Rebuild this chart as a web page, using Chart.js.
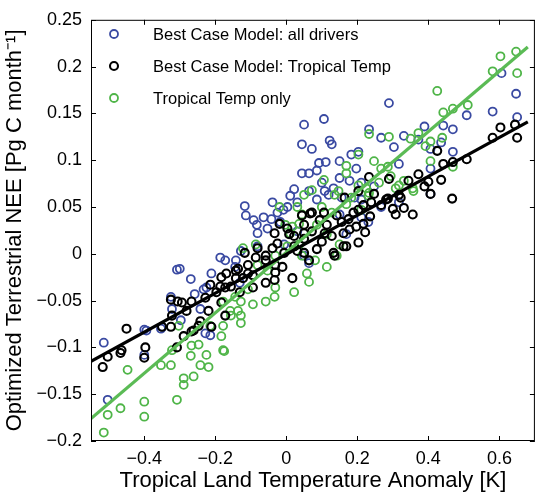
<!DOCTYPE html>
<html><head><meta charset="utf-8">
<script src="https://cdn.jsdelivr.net/npm/chart.js@4.4.0/dist/chart.umd.min.js"></script>
<style>html,body{margin:0;padding:0;background:#fff;}#wrap{width:541px;height:497px;}</style>
</head><body><div id="wrap"><canvas id="c" width="541" height="497"></canvas></div>
<script>
const seriesLabels = ["Best Case Model: all drivers", "Best Case Model: Tropical Temp", "Tropical Temp only"];
const xTitle = "Tropical Land Temperature Anomaly [K]";
const yTitle = "Optimized Terrestrial NEE [Pg C month\u207B\u00B9]";
const xTickValues = [-0.4, -0.2, 0, 0.2, 0.4, 0.6];
const xTickLabels = ["\u22120.4", "\u22120.2", "0", "0.2", "0.4", "0.6"];
const yTickValues = [-0.2, -0.15, -0.1, -0.05, 0, 0.05, 0.1, 0.15, 0.2, 0.25];
const yTickLabels = ["\u22120.2", "\u22120.15", "\u22120.1", "\u22120.05", "0", "0.05", "0.1", "0.15", "0.2", "0.25"];

const allDriversX = [0.050,0.106,0.044,0.072,0.122,0.128,0.092,0.111,0.150,0.183,0.203,0.233,0.044,0.064,0.086,0.150,0.178,0.289,0.267,0.331,0.389,0.442,0.469,0.508,0.581,0.606,0.647,0.650,0.303,0.317,0.372,0.406,0.436,0.469,0.406,0.247,0.317,0.211,0.022,0.011,-0.117,-0.114,-0.092,-0.083,-0.081,-0.064,-0.042,-0.053,-0.025,-0.008,0.064,0.086,0.108,0.133,0.211,0.150,0.169,-0.186,-0.211,-0.269,-0.300,-0.172,-0.144,-0.131,-0.233,-0.006,-0.308,-0.258,-0.325,-0.322,-0.297,-0.225,-0.350,-0.394,-0.228,-0.142,-0.242,-0.514,-0.503,-0.400,-0.353,-0.214,0.192,0.406,0.211,0.231,0.267,0.119,0.003,-0.017,-0.128,0.050,0.064,-0.400,0.031,0.100,0.156,0.197,-0.039,0.031,-0.081];
const allDriversY = [0.138,0.144,0.117,0.112,0.121,0.117,0.097,0.098,0.099,0.106,0.109,0.133,0.086,0.086,0.089,0.081,0.078,0.161,0.124,0.126,0.136,0.137,0.133,0.148,0.152,0.193,0.171,0.146,0.114,0.096,0.122,0.091,0.119,0.109,0.112,0.072,0.055,0.058,0.069,0.062,0.051,0.041,0.036,0.031,0.022,0.039,0.037,0.027,0.044,0.047,0.067,0.058,0.067,0.070,0.076,0.042,0.021,-0.004,-0.021,-0.027,-0.016,-0.007,-0.014,-0.031,-0.038,0.010,-0.017,-0.043,-0.046,-0.059,-0.071,-0.036,-0.078,-0.082,-0.085,-0.007,-0.059,-0.095,-0.156,-0.108,-0.080,-0.087,0.060,0.064,0.039,0.034,0.050,0.063,0.050,0.034,0.003,-0.002,-0.010,-0.081,0.055,0.076,0.060,0.091,0.055,0.024,0.008];

const tropTempX = [0.581,0.603,0.644,0.650,0.425,0.442,0.469,0.508,0.372,0.233,0.289,0.400,0.436,0.389,0.406,0.467,0.344,0.317,0.286,0.267,0.300,0.308,0.331,0.356,0.247,0.203,0.236,0.203,0.203,0.222,0.217,0.164,0.217,0.178,0.161,0.136,0.106,0.067,0.044,0.008,0.022,0.050,0.086,0.064,0.050,0.017,-0.031,-0.011,-0.058,-0.081,-0.039,-0.094,-0.108,-0.142,-0.169,-0.172,-0.197,-0.183,-0.228,-0.219,-0.267,-0.294,-0.281,-0.242,-0.211,-0.172,-0.058,-0.033,-0.325,-0.306,-0.322,-0.350,-0.450,-0.325,-0.261,-0.214,-0.186,-0.183,-0.142,-0.122,-0.247,-0.289,-0.308,-0.397,-0.400,-0.464,-0.117,-0.094,-0.156,-0.131,-0.517,-0.503,-0.467,-0.267,0.281,0.322,0.072,0.050,0.094,0.142,0.175,0.197,0.108,0.161,-0.019,-0.033,-0.025,-0.086,-0.058,0.003,0.022,-0.006,-0.031,-0.108,-0.136,0.050,0.128,0.169,0.133,0.100,0.031,0.072,0.114,0.156,0.239,0.189];
const tropTempY = [0.124,0.135,0.138,0.124,0.110,0.096,0.098,0.101,0.085,0.082,0.080,0.077,0.079,0.072,0.064,0.059,0.078,0.063,0.059,0.052,0.048,0.042,0.049,0.042,0.064,0.067,0.040,0.047,0.012,0.023,0.032,0.060,0.052,0.026,0.008,-0.002,0.044,0.043,0.041,0.021,0.019,0.022,0.005,-0.007,0.001,-0.026,-0.012,-0.014,-0.002,0.006,0.006,-0.023,-0.021,-0.026,-0.021,-0.036,-0.041,-0.052,-0.047,-0.061,-0.051,-0.052,-0.061,-0.072,-0.078,-0.066,-0.031,-0.028,-0.049,-0.051,-0.066,-0.078,-0.080,-0.078,-0.082,-0.033,-0.035,-0.025,-0.018,-0.026,-0.077,-0.088,-0.100,-0.100,-0.111,-0.103,0.001,-0.036,-0.035,-0.041,-0.121,-0.110,-0.106,-0.083,0.058,0.060,0.044,0.031,0.036,0.041,0.037,0.029,0.022,0.022,0.032,0.022,0.011,-0.004,-0.007,0.027,0.008,0.001,-0.020,-0.012,-0.016,0.016,0.019,0.008,0.001,0.013,0.003,0.024,0.031,0.034,0.055,0.044];

const tempOnlyX = [0.233,0.289,0.350,0.372,0.392,0.406,0.425,0.439,0.442,0.469,0.511,0.581,0.603,0.647,0.650,0.247,0.286,0.406,0.469,0.203,0.317,0.358,0.233,0.106,0.072,0.136,0.169,0.203,0.231,-0.019,-0.003,0.011,0.036,0.086,0.114,0.150,0.142,0.064,0.022,-0.033,-0.058,-0.094,-0.136,-0.178,-0.156,-0.214,-0.128,-0.081,-0.122,-0.031,0.211,-0.303,-0.247,-0.269,-0.225,-0.178,-0.178,-0.219,-0.242,-0.325,-0.353,-0.447,-0.261,-0.289,-0.158,-0.128,-0.144,-0.183,-0.128,-0.514,-0.503,-0.467,-0.400,-0.400,-0.308,-0.322,-0.175,-0.267,0.169,0.050,0.225,0.261,0.294,0.331,0.356,0.308,0.044,0.036,0.169,0.147,-0.086,0.017,0.058,-0.031,0.081,0.114,0.044,-0.289,0.100,0.183,0.031,0.128,0.003,-0.053,-0.108,0.267];
const tempOnlyY = [0.128,0.125,0.123,0.129,0.115,0.120,0.174,0.124,0.151,0.155,0.159,0.195,0.211,0.216,0.193,0.099,0.093,0.099,0.093,0.106,0.073,0.067,0.065,0.079,0.068,0.063,0.086,0.073,0.062,0.050,0.031,0.022,0.010,0.031,0.021,0.010,-0.002,-0.030,-0.041,-0.046,-0.051,-0.054,-0.061,-0.051,-0.066,-0.077,-0.074,-0.012,0.006,-0.002,0.047,-0.077,-0.097,-0.109,-0.108,-0.103,-0.077,-0.121,-0.119,-0.119,-0.119,-0.124,-0.131,-0.133,-0.061,-0.066,-0.046,-0.088,-0.051,-0.191,-0.172,-0.165,-0.158,-0.174,-0.156,-0.103,-0.104,-0.098,0.094,0.063,0.070,0.076,0.083,0.078,0.070,0.070,0.042,0.032,0.053,0.067,0.010,0.029,-0.021,-0.036,-0.007,-0.014,-0.002,-0.140,0.050,0.060,0.050,0.044,0.008,-0.018,-0.038,0.091];

const fitX = [-0.55, 0.68];
const tropTempFitY = [-0.115, 0.141];
const tempOnlyFitY = [-0.176, 0.221];

const colBlue = '#3a4aa2', colBlack = '#000000', colGreen = '#4fb548', colGreenLine = '#5bbb55';
const FONT = '"Liberation Sans", Arial, Helvetica, sans-serif';

function pts(xs, ys) { return xs.map((x, i) => ({x: x, y: ys[i]})); }

const boxTicks = {
  id: 'boxTicks',
  afterDatasetsDraw(chart) {
    const {ctx, chartArea: a, scales: {x, y}} = chart;
    ctx.save();
    ctx.strokeStyle = '#000'; ctx.lineWidth = 1;
    ctx.strokeRect(a.left + 0.5, a.top + 0.5, a.right - a.left - 1, a.bottom - a.top - 1);
    const L = 5;
    ctx.beginPath();
    xTickValues.forEach(v => {
      const px = Math.round(x.getPixelForValue(v)) + 0.5;
      ctx.moveTo(px, a.bottom); ctx.lineTo(px, a.bottom - L);
      ctx.moveTo(px, a.top); ctx.lineTo(px, a.top + L);
    });
    yTickValues.forEach(v => {
      const py = Math.round(y.getPixelForValue(v)) + 0.5;
      ctx.moveTo(a.left, py); ctx.lineTo(a.left + L, py);
      ctx.moveTo(a.right, py); ctx.lineTo(a.right - L, py);
    });
    ctx.stroke();
    ctx.restore();
  }
};

const innerLegend = {
  id: 'innerLegend',
  afterDraw(chart) {
    const {ctx} = chart;
    const cols = [colBlue, colBlack, colGreen];
    const rowsY = [34, 66, 98];
    ctx.save();
    ctx.font = '16.5px ' + FONT;
    ctx.textBaseline = 'middle';
    ctx.fillStyle = '#000';
    seriesLabels.forEach((lab, i) => {
      ctx.beginPath();
      ctx.arc(114, rowsY[i], 4, 0, Math.PI * 2);
      ctx.strokeStyle = cols[i];
      ctx.lineWidth = i === 1 ? 2.1 : 1.8;
      ctx.stroke();
      ctx.fillText(lab, 153, rowsY[i] + 1);
    });
    ctx.restore();
  }
};

function labelFor(values, labels) {
  return function (v) {
    const i = values.findIndex(t => Math.abs(t - v) < 1e-9);
    return i >= 0 ? labels[i] : '';
  };
}

new Chart(document.getElementById('c'), {
  type: 'scatter',
  data: {
    datasets: [
      {type: 'line', label: 'fit tropical temp', data: pts(fitX, tropTempFitY), borderColor: colBlack, borderWidth: 3.2, pointRadius: 0, fill: false, order: 0},
      {type: 'line', label: 'fit temp only', data: pts(fitX, tempOnlyFitY), borderColor: colGreenLine, borderWidth: 3.2, pointRadius: 0, fill: false, order: 1},
      {label: seriesLabels[1], data: pts(tropTempX, tropTempY), borderColor: colBlack, backgroundColor: 'rgba(0,0,0,0)', pointRadius: 4, pointBorderWidth: 2.1, order: 2},
      {label: seriesLabels[2], data: pts(tempOnlyX, tempOnlyY), borderColor: colGreen, backgroundColor: 'rgba(0,0,0,0)', pointRadius: 4, pointBorderWidth: 1.8, order: 3},
      {label: seriesLabels[0], data: pts(allDriversX, allDriversY), borderColor: colBlue, backgroundColor: 'rgba(0,0,0,0)', pointRadius: 4, pointBorderWidth: 1.8, order: 4}
    ]
  },
  options: {
    responsive: false,
    animation: false,
    devicePixelRatio: 1,
    layout: {padding: {top: 7, right: 1, left: 0, bottom: 0}},
    plugins: {legend: {display: false}, tooltip: {enabled: false}},
    scales: {
      x: {
        type: 'linear', min: -0.55, max: 0.7,
        afterBuildTicks: s => { s.ticks = xTickValues.map(v => ({value: v})); },
        afterFit: s => { s.height = 56; },
        grid: {display: false, drawTicks: false},
        border: {display: false},
        ticks: {color: '#000', padding: 7, font: {family: FONT, size: 18}, callback: labelFor(xTickValues, xTickLabels), maxRotation: 0, autoSkip: false},
        title: {display: true, text: xTitle, color: '#000', font: {family: FONT, size: 22}, padding: {top: 0, bottom: 3}}
      },
      y: {
        type: 'linear', min: -0.2, max: 0.25,
        afterBuildTicks: s => { s.ticks = yTickValues.map(v => ({value: v})); },
        afterFit: s => { s.width = 91; },
        grid: {display: false, drawTicks: false},
        border: {display: false},
        ticks: {color: '#000', padding: 9, font: {family: FONT, size: 18}, callback: labelFor(yTickValues, yTickLabels), autoSkip: false},
        title: {display: true, text: yTitle, color: '#000', font: {family: FONT, size: 22}, padding: {top: 2, bottom: 0}}
      }
    }
  },
  plugins: [boxTicks, innerLegend]
});
</script>
</body></html>
